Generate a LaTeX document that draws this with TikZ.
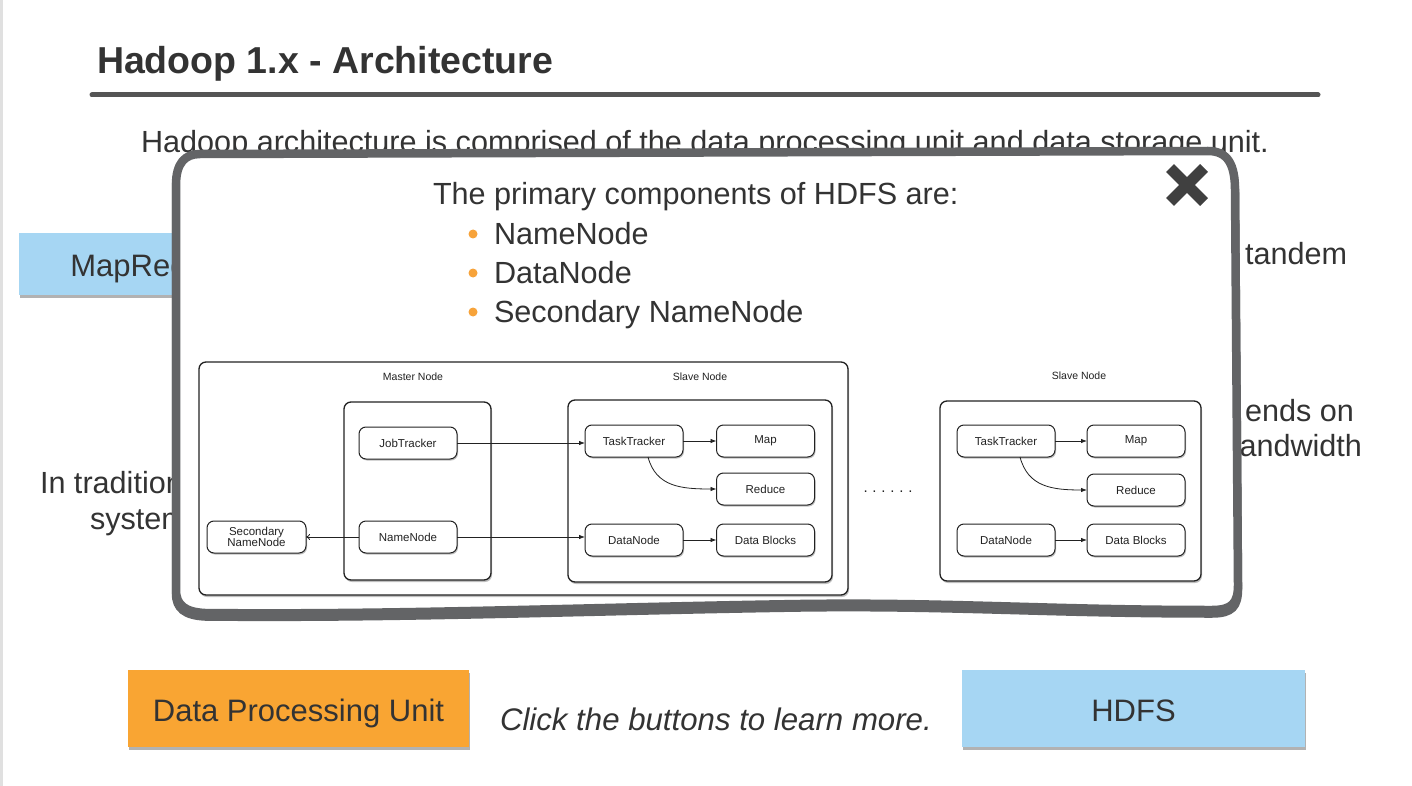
\documentclass[tikz,border=0pt]{standalone}
\usepackage{fontspec}
\setmainfont{Liberation Sans}
\usetikzlibrary{arrows.meta,shadows,calc}
\definecolor{txt}{HTML}{333333}
\definecolor{popb}{HTML}{636466}
\definecolor{lblue}{HTML}{A6D6F3}
\definecolor{orng}{HTML}{F9A533}
\definecolor{dotc}{HTML}{F7A33A}
\definecolor{xcol}{HTML}{404040}
\definecolor{rulec}{HTML}{555555}
\definecolor{dline}{HTML}{222222}
\begin{document}
\begin{tikzpicture}[x=1pt,y=-1pt,
  every node/.style={inner sep=0pt,outer sep=0pt,text=txt},
  body/.style={font=\fontsize{30.6}{36}\selectfont},
  btn/.style={rectangle,minimum height=62pt,font=\fontsize{31}{36}\selectfont,
     text depth=0pt,
     drop shadow={shadow xshift=1pt,shadow yshift=-3pt,opacity=.3,fill=black}},
  cont/.style={draw=dline,line width=1.3pt,rounded corners=7pt,fill=white,
     drop shadow={shadow xshift=1pt,shadow yshift=-2pt,opacity=.25,fill=black}},
  dbox/.style={draw=dline,line width=1pt,rounded corners=7pt,fill=white,
     minimum width=98pt,minimum height=32pt,align=center,text=dline,
     font=\fontsize{11.5}{12.5}\selectfont,
     drop shadow={shadow xshift=1pt,shadow yshift=-1.5pt,opacity=.25,fill=black}},
  dlabel/.style={text=dline,font=\fontsize{10.5}{12}\selectfont},
  arr/.style={-{Latex[length=6pt,width=4.5pt]},line width=0.8pt,dline},
  oarr/.style={-{To[length=4pt,width=6pt]},line width=0.8pt,dline}]
\useasboundingbox (0,0) rectangle (1412,786);
\fill[white] (0,0) rectangle (1412,786);
\fill[black!12] (0,0) rectangle (3,786);

% title and rule
\node[anchor=base west,font=\fontsize{37.5}{44}\selectfont\bfseries] (title) at (97,74) {Hadoop 1.x - Architecture};
\coordinate (r1) at (92,95);
\coordinate (r2) at (1318,95);
\draw[rulec,line width=5pt,line cap=round] (r1) -- (r2);

% background slide texts (partly hidden by the popup)
\node[body,anchor=base] (sub) at (705,153) {Hadoop architecture is comprised of the data processing unit and data storage unit.};
\node[btn,fill=lblue,minimum width=270pt,text height=24pt] (mr) at (154,264) {MapReduce};
\node[body,anchor=base west] (trad1) at (40,493) {In traditional};
\node[body,anchor=base west] (trad2) at (90,529) {systems};
\node[body,anchor=base west] (tand) at (1245,264) {tandem};
\node[body,anchor=base west] (dep) at (1245,421) {ends on};
\node[body,anchor=base east] (bw) at (1362,456) {bandwidth};

% bottom buttons
\node[btn,fill=orng,minimum width=341pt,minimum height=77pt,text height=25pt] (dpu) at (298.5,708.5) {Data Processing Unit};
\node[btn,fill=lblue,minimum width=343pt,minimum height=77pt,text height=25pt] (hdfs) at (1133.5,708.5) {HDFS};
\node[anchor=base west,font=\fontsize{31.2}{36}\selectfont\itshape] (click) at (500,730) {Click the buttons to learn more.};

% popup (thickened lower edge, then the frame)
\draw[popb,line width=8.5pt,yshift=-3.5pt]
  (200,154) -- (1208,151)
  .. controls (1228,151) and (1235,165) .. (1235,190)
  -- (1238,585)
  .. controls (1238,603) and (1232,610) .. (1212,610)
  .. controls (1050,610) and (950,602) .. (800,604)
  .. controls (600,607) and (400,615) .. (205,613)
  .. controls (185,612) and (176,605) .. (176,590)
  -- (176,185)
  .. controls (176,163) and (185,154) .. (200,154) -- cycle;
\draw[popb,line width=8.5pt,fill=white]
  (200,154) -- (1208,151)
  .. controls (1228,151) and (1235,165) .. (1235,190)
  -- (1238,585)
  .. controls (1238,603) and (1232,610) .. (1212,610)
  .. controls (1050,610) and (950,602) .. (800,604)
  .. controls (600,607) and (400,615) .. (205,613)
  .. controls (185,612) and (176,605) .. (176,590)
  -- (176,185)
  .. controls (176,163) and (185,154) .. (200,154) -- cycle;

% close icon
\draw[xcol,line width=11pt] (1170,168) -- (1204,202);
\draw[xcol,line width=11pt] (1170,202) -- (1204,168);

% popup text
\node[body,anchor=base west] (intro) at (433,205) {The primary components of HDFS are:};
\node[body,anchor=base west] (b1) at (494,244) {NameNode};
\node[body,anchor=base west] (b2) at (494,283) {DataNode};
\node[body,anchor=base west] (b3) at (494,322) {Secondary NameNode};
\fill[dotc] (473,234) circle (4.5);
\fill[dotc] (473,273) circle (4.5);
\fill[dotc] (473,312) circle (4.5);

% diagram containers
\node[cont,minimum width=649pt,minimum height=233pt] (outer) at (523.5,478.5) {};
\node[cont,minimum width=147pt,minimum height=178pt] (master) at (417.5,491) {};
\node[cont,minimum width=264pt,minimum height=182pt] (slave1) at (700,491) {};
\node[cont,minimum width=261pt,minimum height=180pt] (slave2) at (1070.5,491) {};
\node[dlabel] (ml) at (413,377) {Master Node};
\node[dlabel] (sl1) at (700,377) {Slave Node};
\node[dlabel] (sl2) at (1079,376) {Slave Node};

% master boxes
\node[dbox] (jt) at (408,443) {JobTracker};
\node[dbox] (nn) at (408,537) {NameNode};
\node[dbox,minimum width=99pt] (snn) at (256.5,537) {Secondary\\[-1pt]NameNode};

% slave 1 boxes
\node[dbox] (tt1) at (634,441) {TaskTracker};
\node[dbox] (map1) at (765.5,441) {Map};
\node[dbox] (red1) at (765.5,489) {Reduce};
\node[dbox] (dn1) at (634,540) {DataNode};
\node[dbox] (db1) at (765.5,540) {Data Blocks};

% slave 2 boxes
\node[dbox] (tt2) at (1006,441) {TaskTracker};
\node[dbox] (map2) at (1136,441) {Map};
\node[dbox] (red2) at (1136,490) {Reduce};
\node[dbox] (dn2) at (1006,540) {DataNode};
\node[dbox] (db2) at (1136,540) {Data Blocks};

\node[text=dline,font=\fontsize{15}{16}\selectfont] (dots) at (888,492) {.\hspace{4.8pt}.\hspace{4.8pt}.\hspace{4.8pt}.\hspace{4.8pt}.\hspace{4.8pt}.};

% connectors
\draw[arr] (jt.east) -- (jt.east -| tt1.west);
\draw[arr] (nn.east) -- (nn.east -| dn1.west);
\draw[oarr] (nn.west) -- (nn.west -| snn.east);
\draw[arr] (tt1) -- (map1);
\draw[arr] ($(tt1.south)+(14,0)$) .. controls +(8,30) and +(-35,0) .. (red1.west);
\draw[arr] (dn1) -- (db1);
\draw[arr] (tt2) -- (map2);
\draw[arr] ($(tt2.south)+(14,0)$) .. controls +(8,30) and +(-35,0) .. (red2.west);
\draw[arr] (dn2) -- (db2);
\end{tikzpicture}
\end{document}
